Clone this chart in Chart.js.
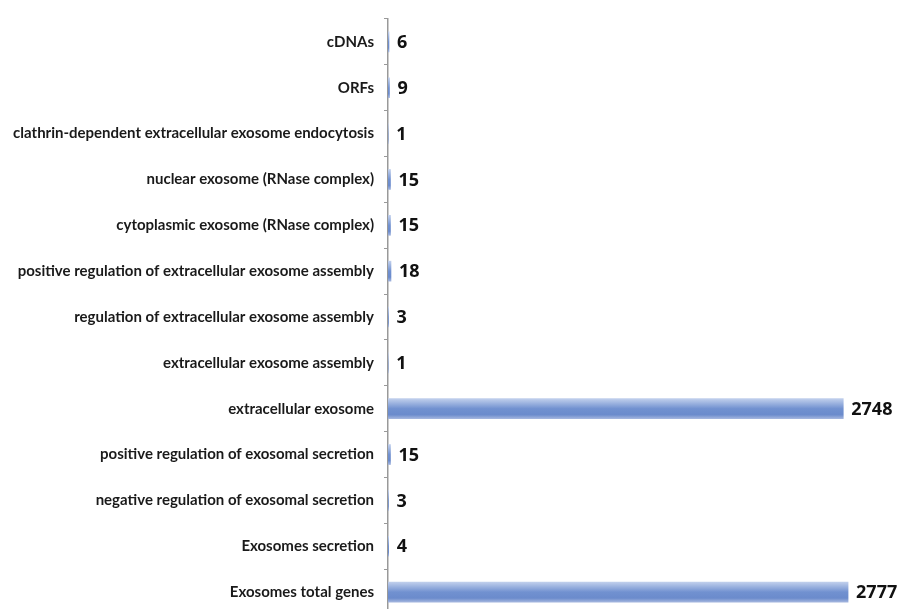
<!DOCTYPE html>
<html>
<head>
<meta charset="utf-8">
<script src="https://cdn.jsdelivr.net/npm/chart.js@4/dist/chart.umd.min.js"></script>
<style>
  html, body { margin: 0; padding: 0; background: #fff; overflow: hidden; }
  #wrap { width: 901px; height: 634px; position: relative; }
</style>
</head>
<body>
<div id="wrap"><canvas id="grafico"></canvas></div>
<script>
var categorias = ['cDNAs', 'ORFs', 'clathrin-dependent extracellular exosome endocytosis',
  'nuclear exosome (RNase complex)', 'cytoplasmic exosome (RNase complex)',
  'positive regulation of extracellular exosome assembly',
  'regulation of extracellular exosome assembly', 'extracellular exosome assembly',
  'extracellular exosome', 'positive regulation of exosomal secretion',
  'negative regulation of exosomal secretion', 'Exosomes secretion', 'Exosomes total genes'];
var valores = [6, 9, 1, 15, 15, 18, 3, 1, 2748, 15, 3, 4, 2777];

// gradiente azul em cada barra
function corBarra(context) {
  var chart = context.chart;
  var y = chart.scales.y;
  if (!y || context.dataIndex === undefined) return '#7d9bd3';
  var c = y.getPixelForValue(context.dataIndex);
  if (!isFinite(c)) return '#7d9bd3';
  var g = chart.ctx.createLinearGradient(0, c - 10, 0, c + 10);
  g.addColorStop(0, '#c0cfec');
  g.addColorStop(0.5, '#7191d0');
  g.addColorStop(0.8, '#6b8bcc');
  g.addColorStop(1, '#a3b5de');
  return g;
}

var rotulos = {
  id: 'rotulos',
  afterDatasetsDraw: function (chart) {
    var ctx = chart.ctx;
    var meta = chart.getDatasetMeta(0);
    ctx.save();
    ctx.font = 'bold 18px "Open Sans"';
    ctx.fillStyle = '#111';
    ctx.textBaseline = 'middle';
    ctx.textAlign = 'left';
    meta.data.forEach(function (bar, i) {
      ctx.fillText(valores[i], bar.x + 8, bar.y + 1);
    });
    ctx.restore();
  }
};

var ctx = document.getElementById('grafico').getContext('2d');
var grafico = new Chart(ctx, {
  type: 'bar',
  data: {
    labels: categorias,
    datasets: [{
      data: valores,
      backgroundColor: corBarra,
      borderWidth: 0,
      barThickness: 20
    }]
  },
  options: {
    indexAxis: 'y',
    responsive: true,
    maintainAspectRatio: false,
    animation: false,
    layout: { padding: { top: 15, right: 16, left: 0, bottom: 0 } },
    plugins: { legend: { display: false }, tooltip: { enabled: false } },
    scales: {
      x: {
        display: false,
        min: 0,
        max: 2777 * 498 / 461
      },
      y: {
        afterFit: function (scale) { scale.width = 388; },
        grid: {
          drawOnChartArea: false,
          tickLength: 4,
          color: '#999'
        },
        border: { color: '#999', width: 1.5 },
        ticks: {
          padding: 10,
          color: '#1a1a1a',
          font: { family: 'Lato', weight: 'bold', size: 15 }
        }
      }
    }
  },
  plugins: [rotulos]
});
</script>
</body>
</html>
